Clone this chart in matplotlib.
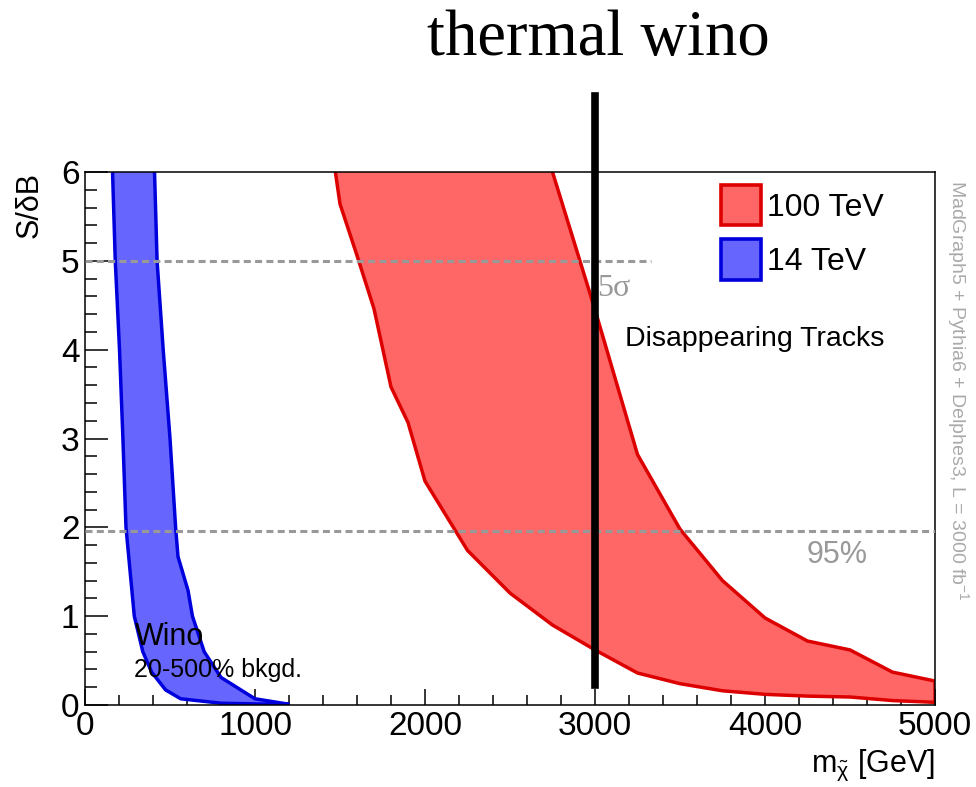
import matplotlib
matplotlib.use("Agg")
import matplotlib.pyplot as plt
from matplotlib.patches import Rectangle
from matplotlib.ticker import MultipleLocator

plt.rcParams['font.family'] = ['Liberation Sans', 'DejaVu Sans']
plt.rcParams['mathtext.fontset'] = 'custom'
plt.rcParams['mathtext.rm'] = 'Liberation Sans'
plt.rcParams['mathtext.it'] = 'Liberation Sans'
plt.rcParams['mathtext.bf'] = 'Liberation Sans:bold'

# 14 TeV band (left = 500% bkgd, right = 20% bkgd)
wino14_lo_m = [146, 162, 178, 203, 223, 241, 290, 340, 392, 474, 563, 800, 1195]
wino14_lo_s = [7.0, 6.0, 5.0, 4.0, 3.0, 2.0, 1.0, 0.60, 0.37, 0.17, 0.07, 0.02, 0.005]
wino14_hi_m = [394, 409, 424, 460, 500, 533, 547, 606, 632, 701, 800, 1000, 1195]
wino14_hi_s = [7.0, 6.0, 5.0, 4.0, 3.0, 2.0, 1.67, 1.29, 1.0, 0.60, 0.31, 0.07, 0.01]

# 100 TeV band
wino100_lo_m = [1450, 1500, 1600, 1700, 1800, 1900, 2000, 2250, 2500, 2750, 3000,
                3250, 3500, 3750, 4000, 4250, 4500, 4750, 5000]
wino100_lo_s = [6.3, 5.64, 5.06, 4.46, 3.58, 3.18, 2.52, 1.74, 1.26, 0.90, 0.62,
                0.36, 0.24, 0.16, 0.12, 0.10, 0.09, 0.05, 0.03]
wino100_hi_m = [2500, 2750, 3000, 3250, 3500, 3750, 4000, 4250, 4500, 4750, 5000]
wino100_hi_s = [7.6, 6.0, 4.45, 2.82, 1.98, 1.40, 0.98, 0.72, 0.62, 0.37, 0.27]

thermal_mass = 3000
thermal_s = [0.22, 6.85]
sig5 = 5.0
sig5_end = 3330
cl95 = 1.96

fig = plt.figure(figsize=(9.76, 7.87), dpi=100)
ax = fig.add_axes([85/976, 1-705/787, 850/976, 533/787])

ax.fill(wino14_lo_m + wino14_hi_m[::-1], wino14_lo_s + wino14_hi_s[::-1],
        facecolor='#6666FF', edgecolor='#0000DD', lw=2.5, zorder=2)
ax.fill(wino100_lo_m + wino100_hi_m[::-1], wino100_lo_s + wino100_hi_s[::-1],
        facecolor='#FF6666', edgecolor='#DD0000', lw=2.5, zorder=2)

ax.plot([0, sig5_end], [sig5, sig5], color='#999999', lw=2.2, dashes=(2.3, 1.4), zorder=3)
ax.plot([0, 5000], [cl95, cl95], color='#999999', lw=2.2, dashes=(2.3, 1.4), zorder=3)

ax.plot([thermal_mass, thermal_mass], thermal_s, color='black', lw=5.5, zorder=4,
        clip_on=False)

ax.set_xlim(0, 5000)
ax.set_ylim(0, 6)
ax.xaxis.set_major_locator(MultipleLocator(1000))
ax.xaxis.set_minor_locator(MultipleLocator(200))
ax.yaxis.set_major_locator(MultipleLocator(1))
ax.yaxis.set_minor_locator(MultipleLocator(0.2))
ax.tick_params(axis='both', which='both', direction='in', top=False, right=False,
               width=1.1, labelsize=24)
ax.tick_params(axis='x', which='major', length=11.5, pad=4)
ax.tick_params(axis='x', which='minor', length=7)
ax.tick_params(axis='y', which='major', length=16.5, pad=4)
ax.tick_params(axis='y', which='minor', length=8.6)
for sp in ax.spines.values():
    sp.set_linewidth(1.1)

ax.text(294, 0.67, 'Wino', fontsize=22, va='baseline')
ax.text(286, 0.31, '20-500% bkgd.', fontsize=18, va='baseline')
ax.text(3176, 4.04, 'Disappearing Tracks', fontsize=20.5, va='baseline')
ax.text(3010, 4.6, '5σ', fontsize=23, va='baseline', color='#999999',
        family=['Liberation Serif', 'DejaVu Serif'], zorder=5)
ax.text(4245, 1.60, '95%', fontsize=22, va='baseline', color='#999999')

# legend
ax.add_patch(Rectangle((0.748, 0.9006), 0.047, 0.075, transform=ax.transAxes,
                       facecolor='#FF6666', edgecolor='#DD0000', lw=2.6, clip_on=False))
ax.add_patch(Rectangle((0.748, 0.797), 0.047, 0.077, transform=ax.transAxes,
                       facecolor='#6666FF', edgecolor='#0000DD', lw=2.6, clip_on=False))
ax.text(0.802, (705-216)/533, '100 TeV', transform=ax.transAxes, fontsize=23, va='baseline')
ax.text(0.802, (705-270)/533, '14 TeV', transform=ax.transAxes, fontsize=23, va='baseline')

fig.text(598/976, 1-55/787, 'thermal wino', fontsize=46.5, ha='center', va='baseline',
         family=['Liberation Serif', 'DejaVu Serif'])
fig.text(30/976, 1-172/787, 'S/δB', fontsize=22, rotation=90, ha='center', va='top')
fig.text(935/976, 1-772/787, r'm$_{\tilde{\chi}}$ [GeV]', fontsize=22, ha='right',
         va='baseline')
fig.text(958/976, 1-180/787, r'MadGraph5 + Pythia6 + Delphes3, L = 3000 fb$^{-1}$',
         fontsize=14, rotation=-90, ha='center', va='top', color='#aaaaaa')

fig.savefig('out.png', dpi=100)
